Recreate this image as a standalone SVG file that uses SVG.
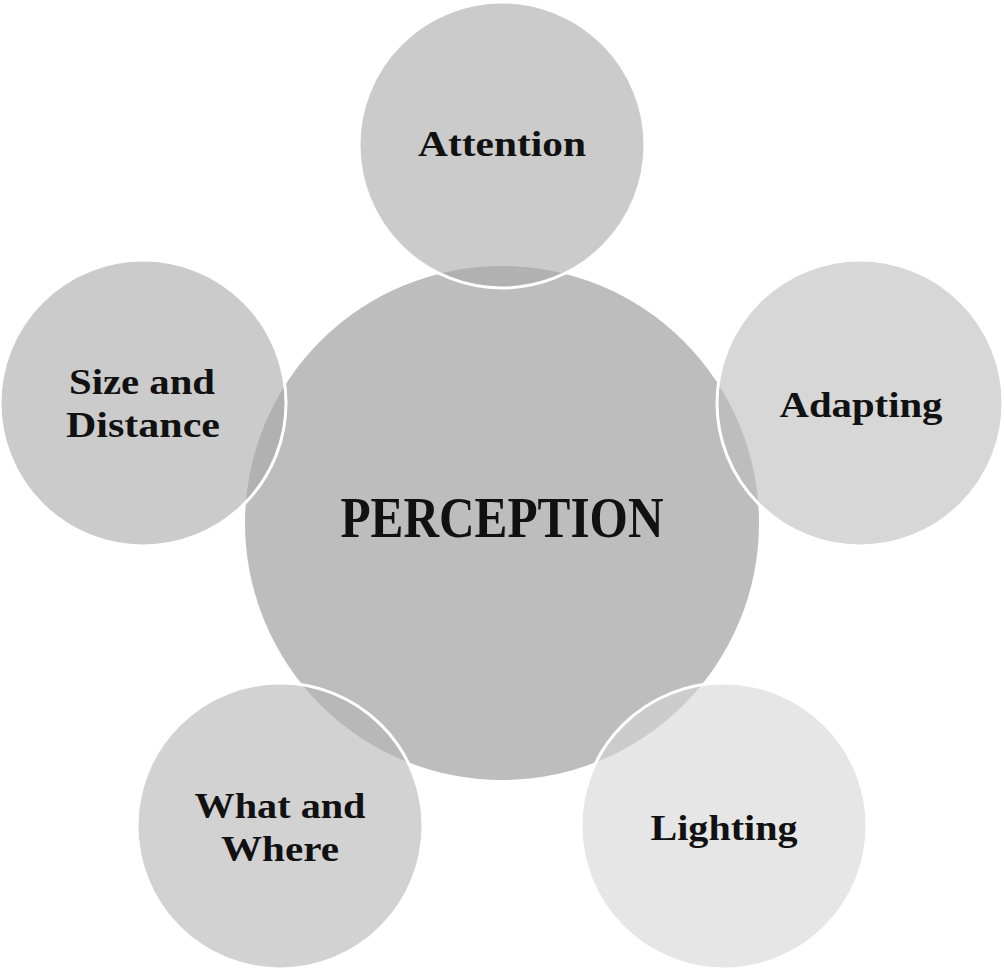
<svg xmlns="http://www.w3.org/2000/svg" width="1004" height="973" viewBox="0 0 1004 973">
<style>
.sat{stroke:#ffffff;stroke-width:3;fill-opacity:0.6}
.lbl{font-family:"Liberation Serif","Times New Roman",serif;font-weight:bold;font-size:36px;fill:#111111;text-anchor:middle}
.big{font-family:"Liberation Serif","Times New Roman",serif;font-weight:bold;font-size:56px;fill:#111111;text-anchor:middle}
</style>
<rect width="1004" height="973" fill="#ffffff"/>
<g id="connectors"></g>
<g id="perception">
<circle cx="502" cy="523" r="257" fill="#bdbdbd"/>
<text class="big" x="502" y="537" textLength="323" lengthAdjust="spacingAndGlyphs">PERCEPTION</text>
</g>
<g id="attention">
<circle class="sat" cx="502" cy="145" r="143" fill="#a9a9a9"/>
<text class="lbl" x="502" y="156" textLength="168" lengthAdjust="spacingAndGlyphs">Attention</text>
</g>
<g id="adapting">
<circle class="sat" cx="860" cy="403" r="143" fill="#bcbcbc"/>
<text class="lbl" x="861" y="417" textLength="163" lengthAdjust="spacingAndGlyphs">Adapting</text>
</g>
<g id="lighting">
<circle class="sat" cx="724" cy="826" r="143" fill="#d6d6d6"/>
<text class="lbl" x="724" y="840" textLength="147" lengthAdjust="spacingAndGlyphs">Lighting</text>
</g>
<g id="what-and-where">
<circle class="sat" cx="280" cy="826" r="143" fill="#b4b4b4"/>
<text class="lbl" x="280" y="818" textLength="171" lengthAdjust="spacingAndGlyphs">What and</text>
<text class="lbl" x="280" y="861" textLength="118" lengthAdjust="spacingAndGlyphs">Where</text>
</g>
<g id="size-and-distance">
<circle class="sat" cx="143" cy="403" r="143" fill="#a8a8a8"/>
<text class="lbl" x="142" y="394" textLength="146" lengthAdjust="spacingAndGlyphs">Size and</text>
<text class="lbl" x="143" y="437" textLength="154" lengthAdjust="spacingAndGlyphs">Distance</text>
</g>
</svg>
